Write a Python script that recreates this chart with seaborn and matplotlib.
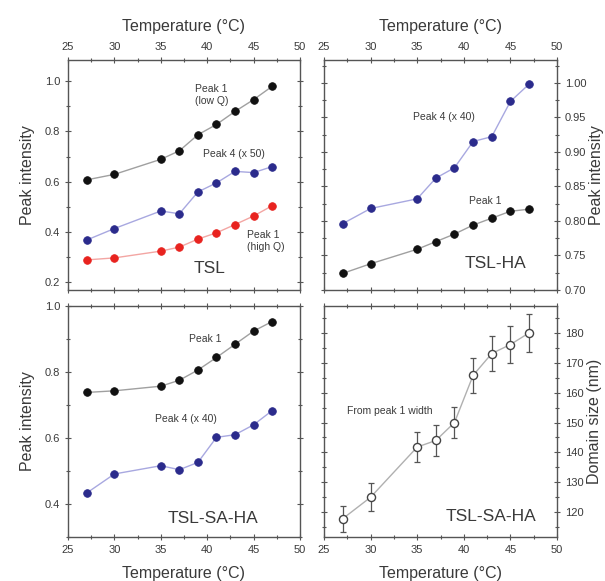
import numpy as np
import pandas as pd
import matplotlib
matplotlib.use("Agg")
import matplotlib.pyplot as plt
import seaborn as sns
from matplotlib.ticker import MultipleLocator, FormatStrFormatter

# ---- data ----
temps = [27, 30, 35, 37, 39, 41, 43, 45, 47]

tsl_peak1_lowq = [0.607, 0.629, 0.689, 0.723, 0.787, 0.828, 0.880, 0.927, 0.980]
tsl_peak4_x50 = [0.367, 0.413, 0.483, 0.472, 0.559, 0.595, 0.641, 0.636, 0.660]
tsl_peak1_highq = [0.288, 0.296, 0.323, 0.339, 0.371, 0.396, 0.429, 0.463, 0.504]

tslha_peak4_x40 = [0.796, 0.818, 0.832, 0.862, 0.877, 0.915, 0.922, 0.973, 0.998]
tslha_peak1 = [0.724, 0.738, 0.759, 0.770, 0.781, 0.794, 0.804, 0.814, 0.817]

tslsaha_peak1 = [0.738, 0.743, 0.757, 0.775, 0.806, 0.844, 0.884, 0.924, 0.953]
tslsaha_peak4_x40 = [0.433, 0.491, 0.516, 0.504, 0.526, 0.602, 0.610, 0.640, 0.683]

domain_size = [117.8, 125.0, 141.8, 144.0, 150.0, 165.8, 173.1, 176.1, 180.0]
domain_err = [4.3, 4.7, 5.1, 5.2, 5.2, 5.8, 5.9, 6.3, 6.4]

xlabel = "Temperature (°C)"
ylabel_int = "Peak intensity"
ylabel_dom = "Domain size (nm)"

# ---- style ----
sns.set_theme(style="ticks")
plt.rcParams["font.family"] = ["Liberation Sans", "DejaVu Sans"]
TXT = "#3a3a3a"
SP = "#555555"
plt.rcParams.update({
    "text.color": TXT, "axes.labelcolor": TXT,
    "xtick.color": SP, "ytick.color": SP,
    "xtick.labelcolor": TXT, "ytick.labelcolor": TXT,
    "axes.edgecolor": SP, "axes.linewidth": 1.0,
})

fig = plt.figure(figsize=(6.05, 5.81), dpi=100)
W, H = 605, 581


def add_ax(l, r, t, b):
    return fig.add_axes([l / W, 1 - b / H, (r - l) / W, (b - t) / H])


ax_tl = add_ax(68, 300, 60, 290)
ax_tr = add_ax(324, 557, 60, 290)
ax_bl = add_ax(68, 300, 306, 537)
ax_br = add_ax(324, 557, 306, 537)

BLACK_M, BLACK_L = "#111111", "#a0a0a0"
BLUE_M, BLUE_L = "#2b2b8c", "#a8a8e0"
RED_M, RED_L = "#e8231f", "#f3a6a3"


def series(ax, y, mcol, lcol):
    df = pd.DataFrame({"T": temps, "v": y})
    sns.lineplot(data=df, x="T", y="v", ax=ax, color=lcol, lw=1.0, zorder=2)
    sns.scatterplot(data=df, x="T", y="v", ax=ax, color=mcol, s=30,
                    edgecolor=mcol, linewidth=0.6, zorder=3)


def style(ax, top, left, ymaj, ymin):
    ax.set_xlim(25, 50)
    ax.xaxis.set_major_locator(MultipleLocator(5))
    ax.xaxis.set_minor_locator(MultipleLocator(2.5))
    ax.yaxis.set_major_locator(MultipleLocator(ymaj))
    ax.yaxis.set_minor_locator(MultipleLocator(ymin))
    ax.tick_params(which="both", direction="inout", top=True, bottom=True,
                   left=True, right=True, labelsize=8, width=0.8)
    ax.tick_params(which="major", length=5)
    ax.tick_params(which="minor", length=3)
    ax.tick_params(axis="x", labeltop=top, labelbottom=not top, pad=3)
    ax.tick_params(axis="y", labelleft=left, labelright=not left, pad=3)
    ax.xaxis.set_label_position("top" if top else "bottom")
    ax.yaxis.set_label_position("left" if left else "right")
    ax.set_xlabel(xlabel, fontsize=11.5, labelpad=8)


# Top-left: TSL
series(ax_tl, tsl_peak1_lowq, BLACK_M, BLACK_L)
series(ax_tl, tsl_peak4_x50, BLUE_M, BLUE_L)
series(ax_tl, tsl_peak1_highq, RED_M, RED_L)
ax_tl.set_ylim(0.168, 1.085)
style(ax_tl, True, True, 0.2, 0.1)
ax_tl.set_ylabel(ylabel_int, fontsize=11.5, labelpad=7)
ax_tl.yaxis.set_major_formatter(FormatStrFormatter("%.1f"))
ax_tl.text(38.7, 0.99, "Peak 1\n(low Q)", fontsize=7.5, va="top", ha="left", linespacing=1.3)
ax_tl.text(39.5, 0.712, "Peak 4 (x 50)", fontsize=7.5, va="center", ha="left")
ax_tl.text(44.3, 0.408, "Peak 1\n(high Q)", fontsize=7.5, va="top", ha="left", linespacing=1.3)
ax_tl.text(38.5, 0.252, "TSL", fontsize=12.5, va="center", ha="left")

# Top-right: TSL-HA
series(ax_tr, tslha_peak4_x40, BLUE_M, BLUE_L)
series(ax_tr, tslha_peak1, BLACK_M, BLACK_L)
ax_tr.set_ylim(0.70, 1.033)
style(ax_tr, True, False, 0.05, 0.025)
ax_tr.yaxis.set_major_formatter(FormatStrFormatter("%.2f"))
ax_tr.set_ylabel(ylabel_int, fontsize=11.5, labelpad=2)
ax_tr.text(34.5, 0.950, "Peak 4 (x 40)", fontsize=7.5, va="center", ha="left")
ax_tr.text(40.6, 0.829, "Peak 1", fontsize=7.5, va="center", ha="left")
ax_tr.text(40.1, 0.738, "TSL-HA", fontsize=12.5, va="center", ha="left")

# Bottom-left: TSL-SA-HA
series(ax_bl, tslsaha_peak1, BLACK_M, BLACK_L)
series(ax_bl, tslsaha_peak4_x40, BLUE_M, BLUE_L)
ax_bl.set_ylim(0.3, 1.0)
style(ax_bl, False, True, 0.2, 0.1)
ax_bl.yaxis.set_major_formatter(FormatStrFormatter("%.1f"))
ax_bl.set_ylabel(ylabel_int, fontsize=11.5, labelpad=7)
ax_bl.text(38.0, 0.90, "Peak 1", fontsize=7.5, va="center", ha="left")
ax_bl.text(34.4, 0.658, "Peak 4 (x 40)", fontsize=7.5, va="center", ha="left")
ax_bl.text(35.7, 0.355, "TSL-SA-HA", fontsize=12.5, va="center", ha="left")

# Bottom-right: domain size
df_d = pd.DataFrame({"T": temps, "d": domain_size, "e": domain_err})
sns.lineplot(data=df_d, x="T", y="d", ax=ax_br, color="#b0b0b0", lw=1.0, zorder=2)
ax_br.errorbar(df_d["T"], df_d["d"], yerr=df_d["e"], fmt="none", ecolor="#555555",
               elinewidth=0.9, capsize=2.5, capthick=0.9, zorder=3)
sns.scatterplot(data=df_d, x="T", y="d", ax=ax_br, marker="o", s=34,
                facecolor="white", edgecolor="#444444", linewidth=1.0, zorder=4)
ax_br.set_ylim(111.7, 189)
style(ax_br, False, False, 10, 5)
ax_br.set_ylabel(ylabel_dom, fontsize=11.5, labelpad=3)
ax_br.text(27.5, 153.8, "From peak 1 width", fontsize=7.5, va="center", ha="left")
ax_br.text(38.1, 118.4, "TSL-SA-HA", fontsize=12.5, va="center", ha="left")

fig.savefig("out.png", dpi=100)
